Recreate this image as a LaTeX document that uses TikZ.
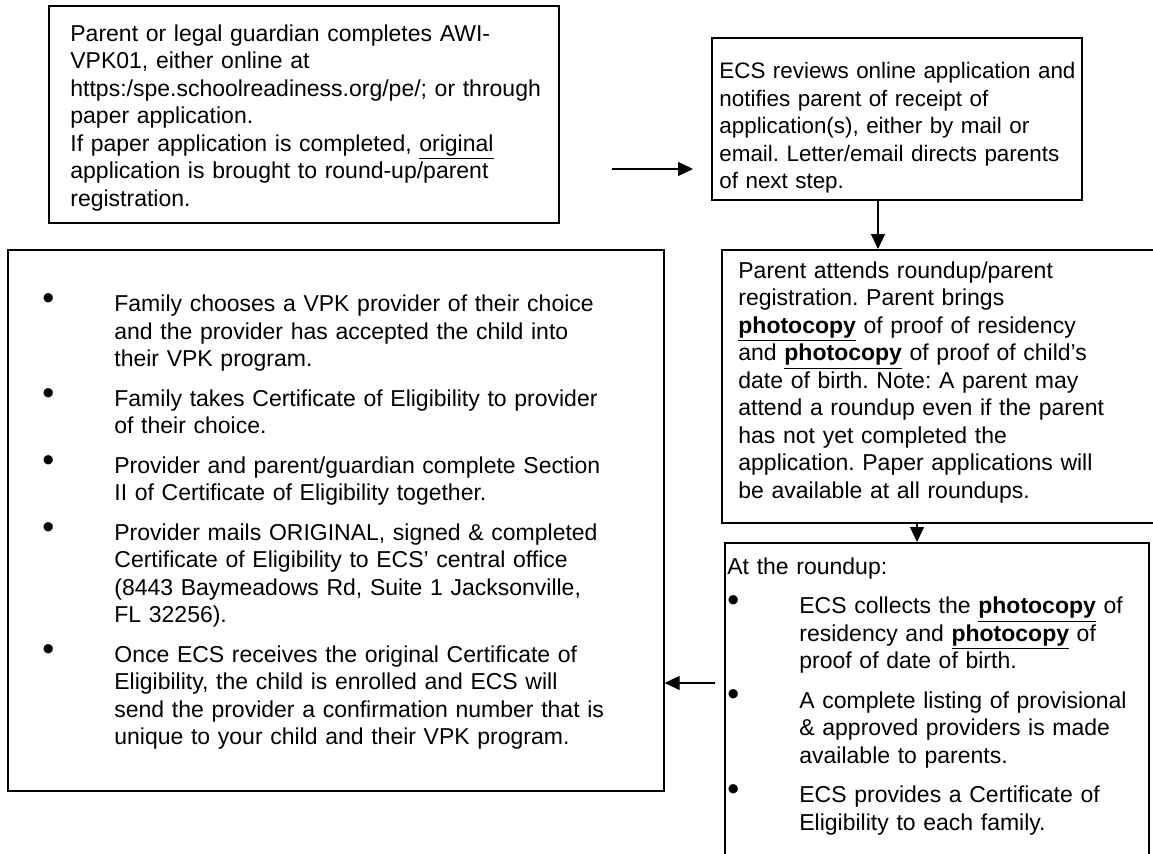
\documentclass[tikz,border=0pt]{standalone}
\usepackage{fontspec}
\setmainfont{Liberation Sans}
\usetikzlibrary{arrows.meta,positioning}
\frenchspacing

% one pixel of the page
\newcommand{\pxu}{0.5pt}
% bullet with hanging text
\newcommand{\bul}{\par\hangindent=36pt\hangafter=1\noindent\makebox[36pt][l]{\raisebox{1.2pt}[0pt][0pt]{\fontsize{17pt}{13.75pt}\selectfont\textbullet}}}

\tikzset{
  every node/.style={font=\fontsize{11.5pt}{13.75pt}\selectfont},
  box/.style={draw, line width=0.8pt, rectangle, anchor=north west, inner sep=0pt},
  txt/.style={anchor=north west, inner sep=0pt, text width=290pt, align=left,
    execute at begin node={\setlength{\parskip}{6pt}\setlength{\parindent}{0pt}}},
  flow/.style={line width=0.6pt, -{Triangle[length=7.5pt,width=7pt]}}
}

\begin{document}
\begin{tikzpicture}[x=0.5pt,y=-0.5pt]
\useasboundingbox (0,0) rectangle (1153,853);
\clip (0,0) rectangle (1153,853);

\node[box, minimum width=510*\pxu, minimum height=217*\pxu] (b1) at (48,5) {};
\node[box, minimum width=370*\pxu, minimum height=162*\pxu] (b2) at (711,37) {};
\node[box, minimum width=460*\pxu, minimum height=273*\pxu] (b3) at (721,249) {};
\node[box, minimum width=424*\pxu, minimum height=360*\pxu] (b4) at (724,542) {};
\node[box, minimum width=656*\pxu, minimum height=541*\pxu] (b5) at (7,249) {};

\node[txt] (t1) at (70,24) {Parent or legal guardian completes AWI-\newline
VPK01, either online at\newline
https:/spe.schoolreadiness.org/pe/; or through\newline
paper application.\newline
If paper application is completed, \underline{original}\newline
application is brought to round-up/parent\newline
registration.};

\node[txt, font=\fontsize{11.2pt}{13.75pt}\selectfont] (t2) at (719,62) {ECS reviews online application and\newline
notifies parent of receipt of\newline
application(s), either by mail or\newline
email. Letter/email directs parents\newline
of next step.};

\node[txt] (t3) at (738,261) {Parent attends roundup/parent\newline
registration. Parent brings\newline
\textbf{\underline{photocopy}} of proof of residency\newline
and \textbf{\underline{photocopy}} of proof of child’s\newline
date of birth. Note: A parent may\newline
attend a roundup even if the parent\newline
has not yet completed the\newline
application. Paper applications will\newline
be available at all roundups.};

\node[txt] (t4) at (727,557) {At the roundup:
\bul ECS collects the \textbf{\underline{photocopy}} of\newline
residency and \textbf{\underline{photocopy}} of\newline
proof of date of birth.
\bul A complete listing of provisional\newline
\& approved providers is made\newline
available to parents.
\bul ECS provides a Certificate of\newline
Eligibility to each family.\par};

\node[txt] (t5) at (42,272) {\bul Family chooses a VPK provider of their choice\newline
and the provider has accepted the child into\newline
their VPK program.
\bul Family takes Certificate of Eligibility to provider\newline
of their choice.
\bul Provider and parent/guardian complete Section\newline
II of Certificate of Eligibility together.
\bul Provider mails ORIGINAL, signed \& completed\newline
Certificate of Eligibility to ECS’ central office\newline
(8443 Baymeadows Rd, Suite 1 Jacksonville,\newline
FL 32256).
\bul Once ECS receives the original Certificate of\newline
Eligibility, the child is enrolled and ECS will\newline
send the provider a confirmation number that is\newline
unique to your child and their VPK program.\par};

\coordinate (a1) at (612,169);
\coordinate (a2) at (878,0);
\coordinate (a3) at (715,683);
\coordinate (a4) at (917,0);

\draw[flow, shorten >=9pt] (a1) -- (a1 -| b2.west);
\draw[flow] (b2.south -| a2) -- (b3.north -| a2);
\draw[flow] (b3.south -| a4) -- (b4.north -| a4);
\draw[flow] (a3) -- (a3 -| b5.east);
\end{tikzpicture}
\end{document}
